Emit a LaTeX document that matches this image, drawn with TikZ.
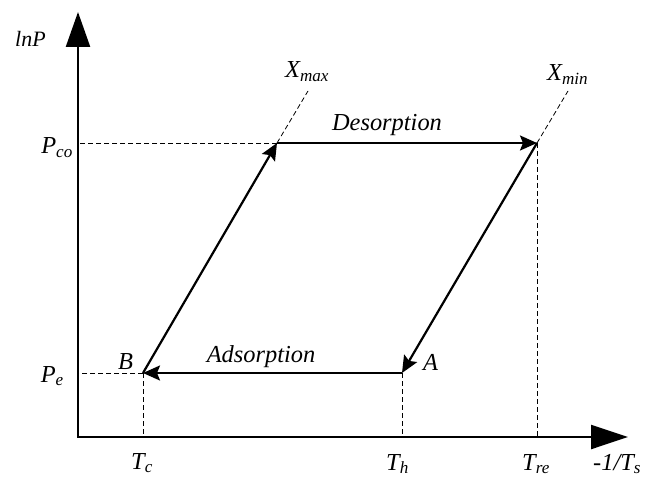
\documentclass[tikz,border=0pt]{standalone}
\usepackage{fontspec}
\setmainfont{Liberation Serif}
\usetikzlibrary{arrows.meta}
\newcommand\varlbl[2]{\textit{#1}\textsubscript{\textit{#2}}}

\begin{document}
\begin{tikzpicture}[x=1bp, y=-1bp,
  axis/.style={line width=2.4bp, {Triangle[length=35bp,width=24bp]}-{Triangle[length=37bp,width=24bp]}},
  cycle/.style={line width=2.2bp, -{Stealth[length=17bp,width=15bp,inset=3bp]}},
  guide/.style={line width=0.8bp, dash pattern=on 5bp off 3bp},
  lbl/.style={inner sep=0pt, font=\fontsize{24.5}{28}\selectfont\itshape}]
  \useasboundingbox (0,0) rectangle (651,479);
  % Points of the cycle
  \coordinate (O) at (78,437);
  \coordinate (ytip) at (78,12);
  \coordinate (xtip) at (628,437);
  \coordinate (B) at (143,373);
  \coordinate (A) at (402,373);
  \coordinate (Xmax) at (277,143);
  \coordinate (Xmin) at (537,143);
  \coordinate (Xmaxend) at (308,91);
  \coordinate (Xminend) at (568,91);
  % Guide lines
  \draw[guide] (Xmax) -- (Xmax -| O);
  \draw[guide] (B) -- (B -| O);
  \draw[guide] (B) -- (B |- O);
  \draw[guide] (A) -- (A |- O);
  \draw[guide] (Xmin) -- (Xmin |- O);
  \draw[guide] (Xmax) -- (Xmaxend);
  \draw[guide] (Xmin) -- (Xminend);
  % Axes
  \draw[axis] (ytip) -- (O) -- (xtip);
  % Cycle
  \draw[cycle] (B) -- (Xmax);
  \draw[cycle] (Xmax) -- (Xmin);
  \draw[cycle] (Xmin) -- (A);
  \draw[cycle] (A) -- (B);
  % Labels
  \node[lbl, anchor=base west, font=\fontsize{22}{26}\selectfont\itshape] (lnp) at (15,47) {lnP};
  \node[lbl, anchor=base east] (pco) at (73,154) {\varlbl{P}{co}};
  \node[lbl, anchor=base east] (pe) at (64,382) {\varlbl{P}{e}};
  \node[lbl, anchor=base west] (tc) at (131,469) {\varlbl{T}{c}};
  \node[lbl, anchor=base west] (th) at (386,470) {\varlbl{T}{h}};
  \node[lbl, anchor=base west] (tre) at (522,470) {\varlbl{T}{re}};
  \node[lbl, anchor=base west] (ts) at (593,470) {-1/\varlbl{T}{s}};
  \node[lbl, anchor=base west] (xmax) at (285,78) {\varlbl{X}{max}};
  \node[lbl, anchor=base west] (xmin) at (547,81) {\varlbl{X}{min}};
  \node[lbl, anchor=base] (des) at (387,131) {Desorption};
  \node[lbl, anchor=base] (ads) at (261,362) {Adsorption};
  \node[lbl, anchor=base west] (lb) at (118,369) {B};
  \node[lbl, anchor=base west] (la) at (423,370) {A};
\end{tikzpicture}
\end{document}
